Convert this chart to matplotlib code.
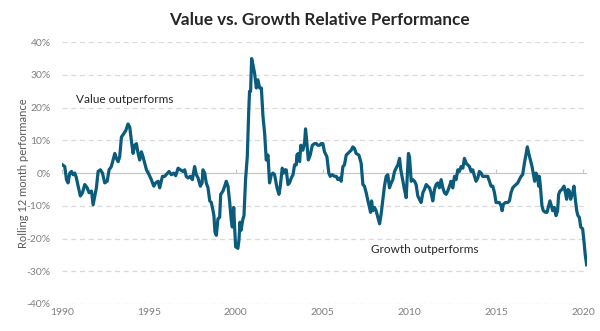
import matplotlib
matplotlib.use("Agg")
import matplotlib.pyplot as plt
import numpy as np

plt.rcParams['font.family'] = ['Lato', 'DejaVu Sans']

# Decimal years and rolling 12-month relative performance (%)
years = [
    1990.04, 1990.17, 1990.27, 1990.36, 1990.46, 1990.56, 1990.65, 1990.75, 1990.84, 1990.94,
    1991.07, 1991.19, 1991.32, 1991.46, 1991.57, 1991.71, 1991.80, 1991.90, 1991.99, 1992.09,
    1992.22, 1992.34, 1992.47, 1992.61, 1992.72, 1992.85, 1992.95, 1993.05, 1993.14, 1993.24,
    1993.33, 1993.43, 1993.56, 1993.68, 1993.81, 1993.91, 1994.00, 1994.10, 1994.20, 1994.29,
    1994.39, 1994.48, 1994.58, 1994.67, 1994.77, 1994.87, 1995.02, 1995.15, 1995.29, 1995.40,
    1995.54, 1995.63, 1995.79, 1995.92, 1996.05, 1996.17, 1996.30, 1996.44, 1996.55, 1996.69,
    1996.82, 1996.97, 1997.07, 1997.16, 1997.26,
    1997.39, 1997.51, 1997.64, 1997.74, 1997.84, 1997.97, 1998.07, 1998.12, 1998.22, 1998.31,
    1998.41, 1998.51, 1998.60, 1998.70, 1998.75, 1998.81, 1998.89, 1998.98, 1999.08, 1999.14,
    1999.27, 1999.37, 1999.46, 1999.56, 1999.66, 1999.75, 1999.81, 1999.89, 1999.94, 2000.00,
    2000.13, 2000.19, 2000.25, 2000.31, 2000.42, 2000.48, 2000.57, 2000.67, 2000.75, 2000.80,
    2000.86, 2000.92, 2001.00, 2001.09, 2001.19, 2001.28, 2001.38, 2001.48, 2001.57, 2001.67,
    2001.76, 2001.86, 2001.95, 2002.05, 2002.15, 2002.24, 2002.38, 2002.49, 2002.57, 2002.68,
    2002.76, 2002.84, 2002.91, 2003.01, 2003.10, 2003.20, 2003.30, 2003.39, 2003.49, 2003.52,
    2003.60, 2003.68, 2003.75, 2003.87, 2003.97, 2004.02, 2004.10, 2004.18, 2004.29, 2004.41,
    2004.54, 2004.64, 2004.73,
    2004.83, 2004.92, 2005.02, 2005.11, 2005.25, 2005.36, 2005.44, 2005.56, 2005.69, 2005.79,
    2005.88, 2005.98, 2006.07, 2006.17, 2006.26, 2006.36, 2006.46, 2006.55, 2006.65, 2006.74,
    2006.84, 2006.93, 2007.09, 2007.22, 2007.32, 2007.41, 2007.51, 2007.61, 2007.70, 2007.76,
    2007.82, 2007.89, 2007.99, 2008.08, 2008.18, 2008.28, 2008.37, 2008.47, 2008.56, 2008.66,
    2008.75, 2008.85, 2008.95, 2009.04, 2009.14, 2009.23, 2009.33, 2009.43, 2009.50, 2009.62,
    2009.71, 2009.81, 2009.87, 2009.94, 2010.00, 2010.10, 2010.19, 2010.29, 2010.38, 2010.48,
    2010.57, 2010.67, 2010.77, 2010.86, 2010.96, 2011.05, 2011.15, 2011.24, 2011.34, 2011.44,
    2011.53, 2011.63, 2011.72, 2011.82, 2011.92, 2012.01, 2012.11, 2012.20,
    2012.30, 2012.39, 2012.49, 2012.59, 2012.68, 2012.78, 2012.87, 2012.97, 2013.07, 2013.16,
    2013.26, 2013.35, 2013.45, 2013.54, 2013.64, 2013.74, 2013.83, 2013.93, 2014.02, 2014.12,
    2014.21, 2014.31, 2014.41, 2014.50, 2014.60, 2014.69, 2014.79, 2014.89, 2014.98, 2015.08,
    2015.17, 2015.27, 2015.33, 2015.40, 2015.52, 2015.65, 2015.75, 2015.84, 2015.94, 2016.03,
    2016.13, 2016.23, 2016.32, 2016.42, 2016.51, 2016.61, 2016.71, 2016.78, 2016.86, 2016.93,
    2017.05, 2017.15, 2017.20, 2017.28, 2017.38, 2017.43, 2017.47, 2017.53, 2017.62, 2017.70,
    2017.82, 2017.91, 2018.01, 2018.08, 2018.16, 2018.24, 2018.33, 2018.43, 2018.52, 2018.58,
    2018.66, 2018.77, 2018.89, 2018.97, 2019.04, 2019.12, 2019.20, 2019.27, 2019.39, 2019.46,
    2019.54, 2019.62, 2019.69, 2019.77, 2019.85, 2019.96, 2020.04, 2020.11, 2020.19,
]
values = [
    2.5, 2.0, -2.0, -3.0, 0.0, 0.5, -0.5, 0.0, -1.5, -4.0,
    -7.0, -6.0, -3.5, -4.5, -6.0, -5.5, -9.7, -7.0, -4.5, 0.5,
    1.0, 0.0, -3.0, -2.5, 1.0, 2.0, 4.0, 6.0, 4.5, 3.5,
    5.0, 11.0, 12.0, 13.0, 15.0, 14.0, 10.0, 6.0, 8.5, 9.0,
    6.0, 4.0, 6.5, 5.0, 3.0, 1.0, -0.5, -2.0, -4.0, -3.0,
    -2.5, -4.5, -1.0, -1.0, -0.2, 0.5, -0.5, 0.0, -0.8, 1.5,
    1.0, 0.5, 1.0, -1.0, -1.5,
    -1.0, -2.0, 2.0, -0.5, -1.5, -4.0, -3.0, 1.0, 0.0, -3.0,
    -4.5, -8.5, -9.0, -11.5, -13.0, -18.0, -19.0, -14.0, -13.5, -6.5,
    -5.5, -4.0, -2.5, -4.0, -9.0, -14.5, -16.5, -10.5, -16.5, -22.5,
    -23.0, -20.5, -15.0, -17.5, -14.0, -13.0, -2.0, 5.0, 18.5, 25.0,
    25.0, 35.0, 33.0, 30.5, 26.0, 28.5, 26.0, 26.0, 17.5, 12.0,
    4.0, 5.5, -3.0, -0.5, 0.0, -0.5, -4.5, -6.5, -4.0, 1.5,
    0.0, 1.0, 1.0, -3.5, -3.0, -1.5, -0.5, 2.5, 2.5, 5.5,
    6.0, 3.5, 8.5, 7.0, 9.5, 13.5, 9.0, 4.0, 5.5, 8.5,
    9.0, 9.0, 8.5,
    8.5, 9.0, 9.0, 6.5, 5.0, 0.0, -1.0, -0.5, -1.0, -1.0,
    -2.0, -1.5, -2.5, 2.0, 2.5, 5.5, 6.0, 6.5, 7.0, 8.0,
    7.5, 6.0, 5.5, 3.0, -3.5, -4.0, -6.0, -8.5, -10.5, -12.0,
    -8.5, -11.5, -10.5, -11.5, -13.5, -15.5, -12.5, -8.0, -4.0, -1.0,
    -0.5, -4.5, -3.0, -2.0, 0.5, 1.5, 2.5, 4.5, 1.0, -2.5,
    -5.0, -7.5, -1.0, 6.0, 5.0, -2.5, -2.0, -2.5, -3.5, -7.0,
    -8.0, -9.0, -6.0, -5.0, -3.5, -4.0, -4.5, -6.0, -8.5, -5.0,
    -3.5, -3.0, -4.5, -2.0, -4.5, -6.0, -6.5, -5.5,
    -4.0, -2.5, -4.5, -1.0, -2.0, 1.0, 0.5, 2.0, 1.5, 4.5,
    3.0, 2.5, 2.0, 0.5, 1.0, -1.0, -2.5, -1.5, 0.5, 0.0,
    -1.0, -1.0, -1.0, -1.0, -2.5, -4.0, -4.0, -6.0, -9.0, -9.0,
    -9.0, -10.0, -11.5, -9.5, -9.0, -9.0, -8.5, -6.0, -4.5, -4.0,
    -3.5, -3.0, -2.0, -1.0, -0.5, 3.0, 6.0, 8.0, 6.0, 4.5,
    2.0, -1.0, -2.5, 0.0, -1.5, -4.0, -1.0, -4.0, -10.0, -11.5,
    -12.0, -12.0, -10.0, -8.5, -10.0, -11.5, -10.5, -13.0, -11.5, -6.5,
    -5.5, -5.0, -4.0, -6.0, -8.0, -5.0, -5.5, -8.0, -6.0, -4.0,
    -8.0, -11.5, -13.0, -13.5, -16.5, -17.0, -21.0, -25.0, -28.0,
]
y_ticks = [-40, -30, -20, -10, 0, 10, 20, 30, 40]
x_ticks = [1990, 1995, 2000, 2005, 2010, 2015, 2020]

fig = plt.figure(figsize=(6.0, 3.31), dpi=100)
ax = fig.add_axes([0.103, 0.0816, 0.875, 0.791])

line_color = '#0b5b7c'
grid_color = '#d9d9d9'
text_gray = '#7f7f7f'
zero_color = '#c8c8c8'

for yt in y_ticks:
    if yt != 0:
        ax.axhline(yt, color=grid_color, lw=0.9, ls=(0, (4, 3)), zorder=0)
ax.axhline(0, color=zero_color, lw=0.9, zorder=1)

ax.plot(years, values, color=line_color, lw=2.3, solid_joinstyle='round', zorder=3)

ax.set_xlim(1990, 2020.2)
ax.set_ylim(-40, 40)
ax.set_yticks(y_ticks)
ax.set_yticklabels([f"{v}%" for v in y_ticks])
ax.set_xticks(x_ticks)
ax.set_xticklabels([str(v) for v in x_ticks])
for s in ax.spines.values():
    s.set_visible(False)
ax.tick_params(axis='both', length=0, colors=text_gray, labelsize=7.5)
ax.tick_params(axis='y', pad=8)
ax.tick_params(axis='x', pad=3)

# tick marks on the zero axis
sec = ax.secondary_xaxis(0.5)
sec.set_xticks(x_ticks)
sec.set_xticklabels([])
for s in sec.spines.values():
    s.set_visible(False)
sec.tick_params(axis='x', direction='out', length=3, color=zero_color, width=0.8)

ax.set_ylabel("Rolling 12 month performance", color='#595959', fontsize=8)
ax.yaxis.set_label_coords(-0.063, 0.5)

fig.text(0.532, 0.94, "Value vs. Growth Relative Performance", ha='center', va='center',
         fontsize=12.3, fontweight='bold', color='#262626')
ax.text(1993.6, 22.5, "Value outperforms", ha='center', va='center', fontsize=8.5, color='#262626')
ax.text(2010.85, -23.5, "Growth outperforms", ha='center', va='center', fontsize=8.5, color='#262626')

fig.savefig("out.png", dpi=100)
